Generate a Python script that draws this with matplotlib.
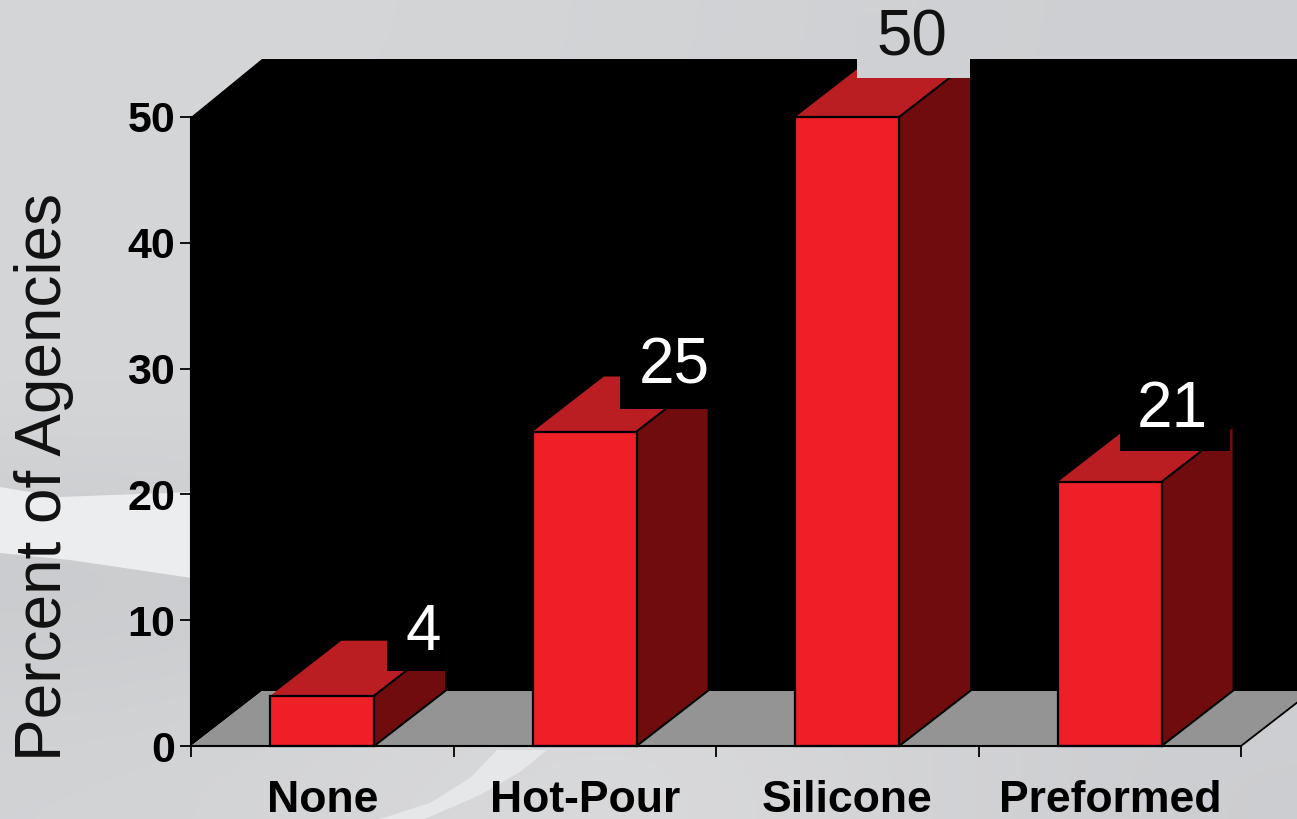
import numpy as np
import matplotlib
matplotlib.use("Agg")
import matplotlib.pyplot as plt
from matplotlib.patches import Polygon, Rectangle

categories = ["None", "Hot-Pour", "Silicone", "Preformed"]
values = [4, 25, 50, 21]
y_ticks = [0, 10, 20, 30, 40, 50]
y_label = "Percent of Agencies"

plt.rcParams["font.family"] = ["Liberation Sans", "DejaVu Sans"]
W, H = 1297, 819
fig = plt.figure(figsize=(W / 100, H / 100), dpi=100)

# background
bg = fig.add_axes([0, 0, 1, 1], zorder=0)
bg.set_xlim(0, W); bg.set_ylim(H, 0); bg.axis("off")
shade = np.array([
    [[213, 214, 216], [211, 212, 214], [206, 207, 210]],
    [[212, 213, 215], [209, 210, 213], [205, 206, 209]],
    [[214, 215, 217], [212, 213, 215], [207, 208, 211]],
    [[198, 200, 203], [212, 213, 215], [208, 209, 212]],
    [[210, 211, 213], [221, 221, 223], [204, 205, 208]],
]) / 255
bg.imshow(shade, extent=[0, W, H, 0], aspect="auto", interpolation="bicubic", zorder=0)
bg.add_patch(Polygon([(0, 487), (60, 497), (192, 492), (192, 578), (70, 560), (0, 553)],
                     fc="#ECEDEF", ec="none", zorder=1))
bg.add_patch(Polygon([(380, 819), (430, 803), (470, 778), (497, 750), (547, 750), (520, 772),
                      (480, 795), (425, 819)],
                     fc="#E6E7E8", ec="none", zorder=1))

# plot axes: front plane of the 3-D chart
ax = fig.add_axes([191 / W, 1 - 746 / H, 1050 / W, 629 / H], zorder=1)
ax.set_xlim(0, 4); ax.set_ylim(0, 50)
ax.patch.set_alpha(0)
PX = 4 / 1050; PY = 50 / 629
depth_x = 71 * PX; depth_y = 55 * PY
right = (1297 - 191) * PX
top = 50 + 58 * PY
edge_y = (right - 4) / depth_x * depth_y

ax.add_patch(Polygon([(0, 0), (0, 50), (depth_x, top), (right, top), (right, depth_y), (depth_x, depth_y)],
                     fc="black", ec="none", clip_on=False, zorder=1))
ax.add_patch(Polygon([(0, 0), (depth_x, depth_y), (right, depth_y), (right, edge_y), (4, 0)],
                     fc="#949494", ec="none", clip_on=False, zorder=2))
ax.plot([4, right], [0, edge_y], color="black", lw=1.3, clip_on=False, zorder=2)

bar_w = 0.395
for i, v in enumerate(values):
    c = i + 0.5
    l, r = c - bar_w / 2, c + bar_w / 2
    ax.add_patch(Polygon([(l, v), (l + depth_x, v + depth_y), (r + depth_x, v + depth_y), (r, v)],
                         fc="#BA1D22", ec="none", clip_on=False, zorder=3))
    ax.add_patch(Polygon([(r, 0), (r + depth_x, depth_y), (r + depth_x, v + depth_y), (r, v)],
                         fc="#700C0D", ec="none", clip_on=False, zorder=3))
    ax.plot([r, r + depth_x], [0, depth_y], color="black", lw=1.5, clip_on=False, zorder=4)
    ax.plot([r, r + depth_x], [v, v + depth_y], color="black", lw=1.5, clip_on=False, zorder=4)
    ax.add_patch(Rectangle((l, 0), bar_w, v, fc="#EE1F26", ec="black", lw=1.6, clip_on=False, zorder=5))

# value labels: box and text placed relative to each bar (pixel offsets from bar centre / top)
box_l = [65, 35, 10, 10]
box_r = [123, 124, 123, 120]
box_b = [25, 23, 39, 31]
text_dx = [101, 90, 65, 63]
text_dy = [68, 70, 84, 77]
box_c = ["black", "black", "#CFD0D3", "black"]
text_c = ["white", "white", "#111111", "white"]
for i, v in enumerate(values):
    c = i + 0.5
    ax.add_patch(Rectangle((c + box_l[i] * PX, v + box_b[i] * PY), (box_r[i] - box_l[i]) * PX, 65 * PY,
                           fc=box_c[i], ec="none", clip_on=False, zorder=6))
    ax.text(c + text_dx[i] * PX, v + (text_dy[i] - 5) * PY, str(v), ha="center", va="center",
            fontsize=46, color=text_c[i], clip_on=False, zorder=7)

# axes
for s in ["top", "right"]:
    ax.spines[s].set_visible(False)
for s in ["left", "bottom"]:
    ax.spines[s].set_linewidth(1.5)
    ax.spines[s].set_zorder(8)
ax.set_yticks(y_ticks)
ax.set_xticks(range(5))
ax.set_xticklabels([])
ax.tick_params(axis="both", length=8, width=1.3, color="black")
ax.tick_params(axis="y", labelsize=31, pad=3.5)
for t in ax.get_yticklabels():
    t.set_fontweight("bold")
for i, name in enumerate(categories):
    ax.text(i + 0.5, -54 * PY, name, ha="center", va="center", fontsize=32, fontweight="bold",
            color="black", clip_on=False)
fig.text(44 / W, 1 - 477 / H, y_label, rotation=90, ha="center", va="center", fontsize=46, color="#111111", zorder=3)

fig.savefig("out.png", dpi=100)
